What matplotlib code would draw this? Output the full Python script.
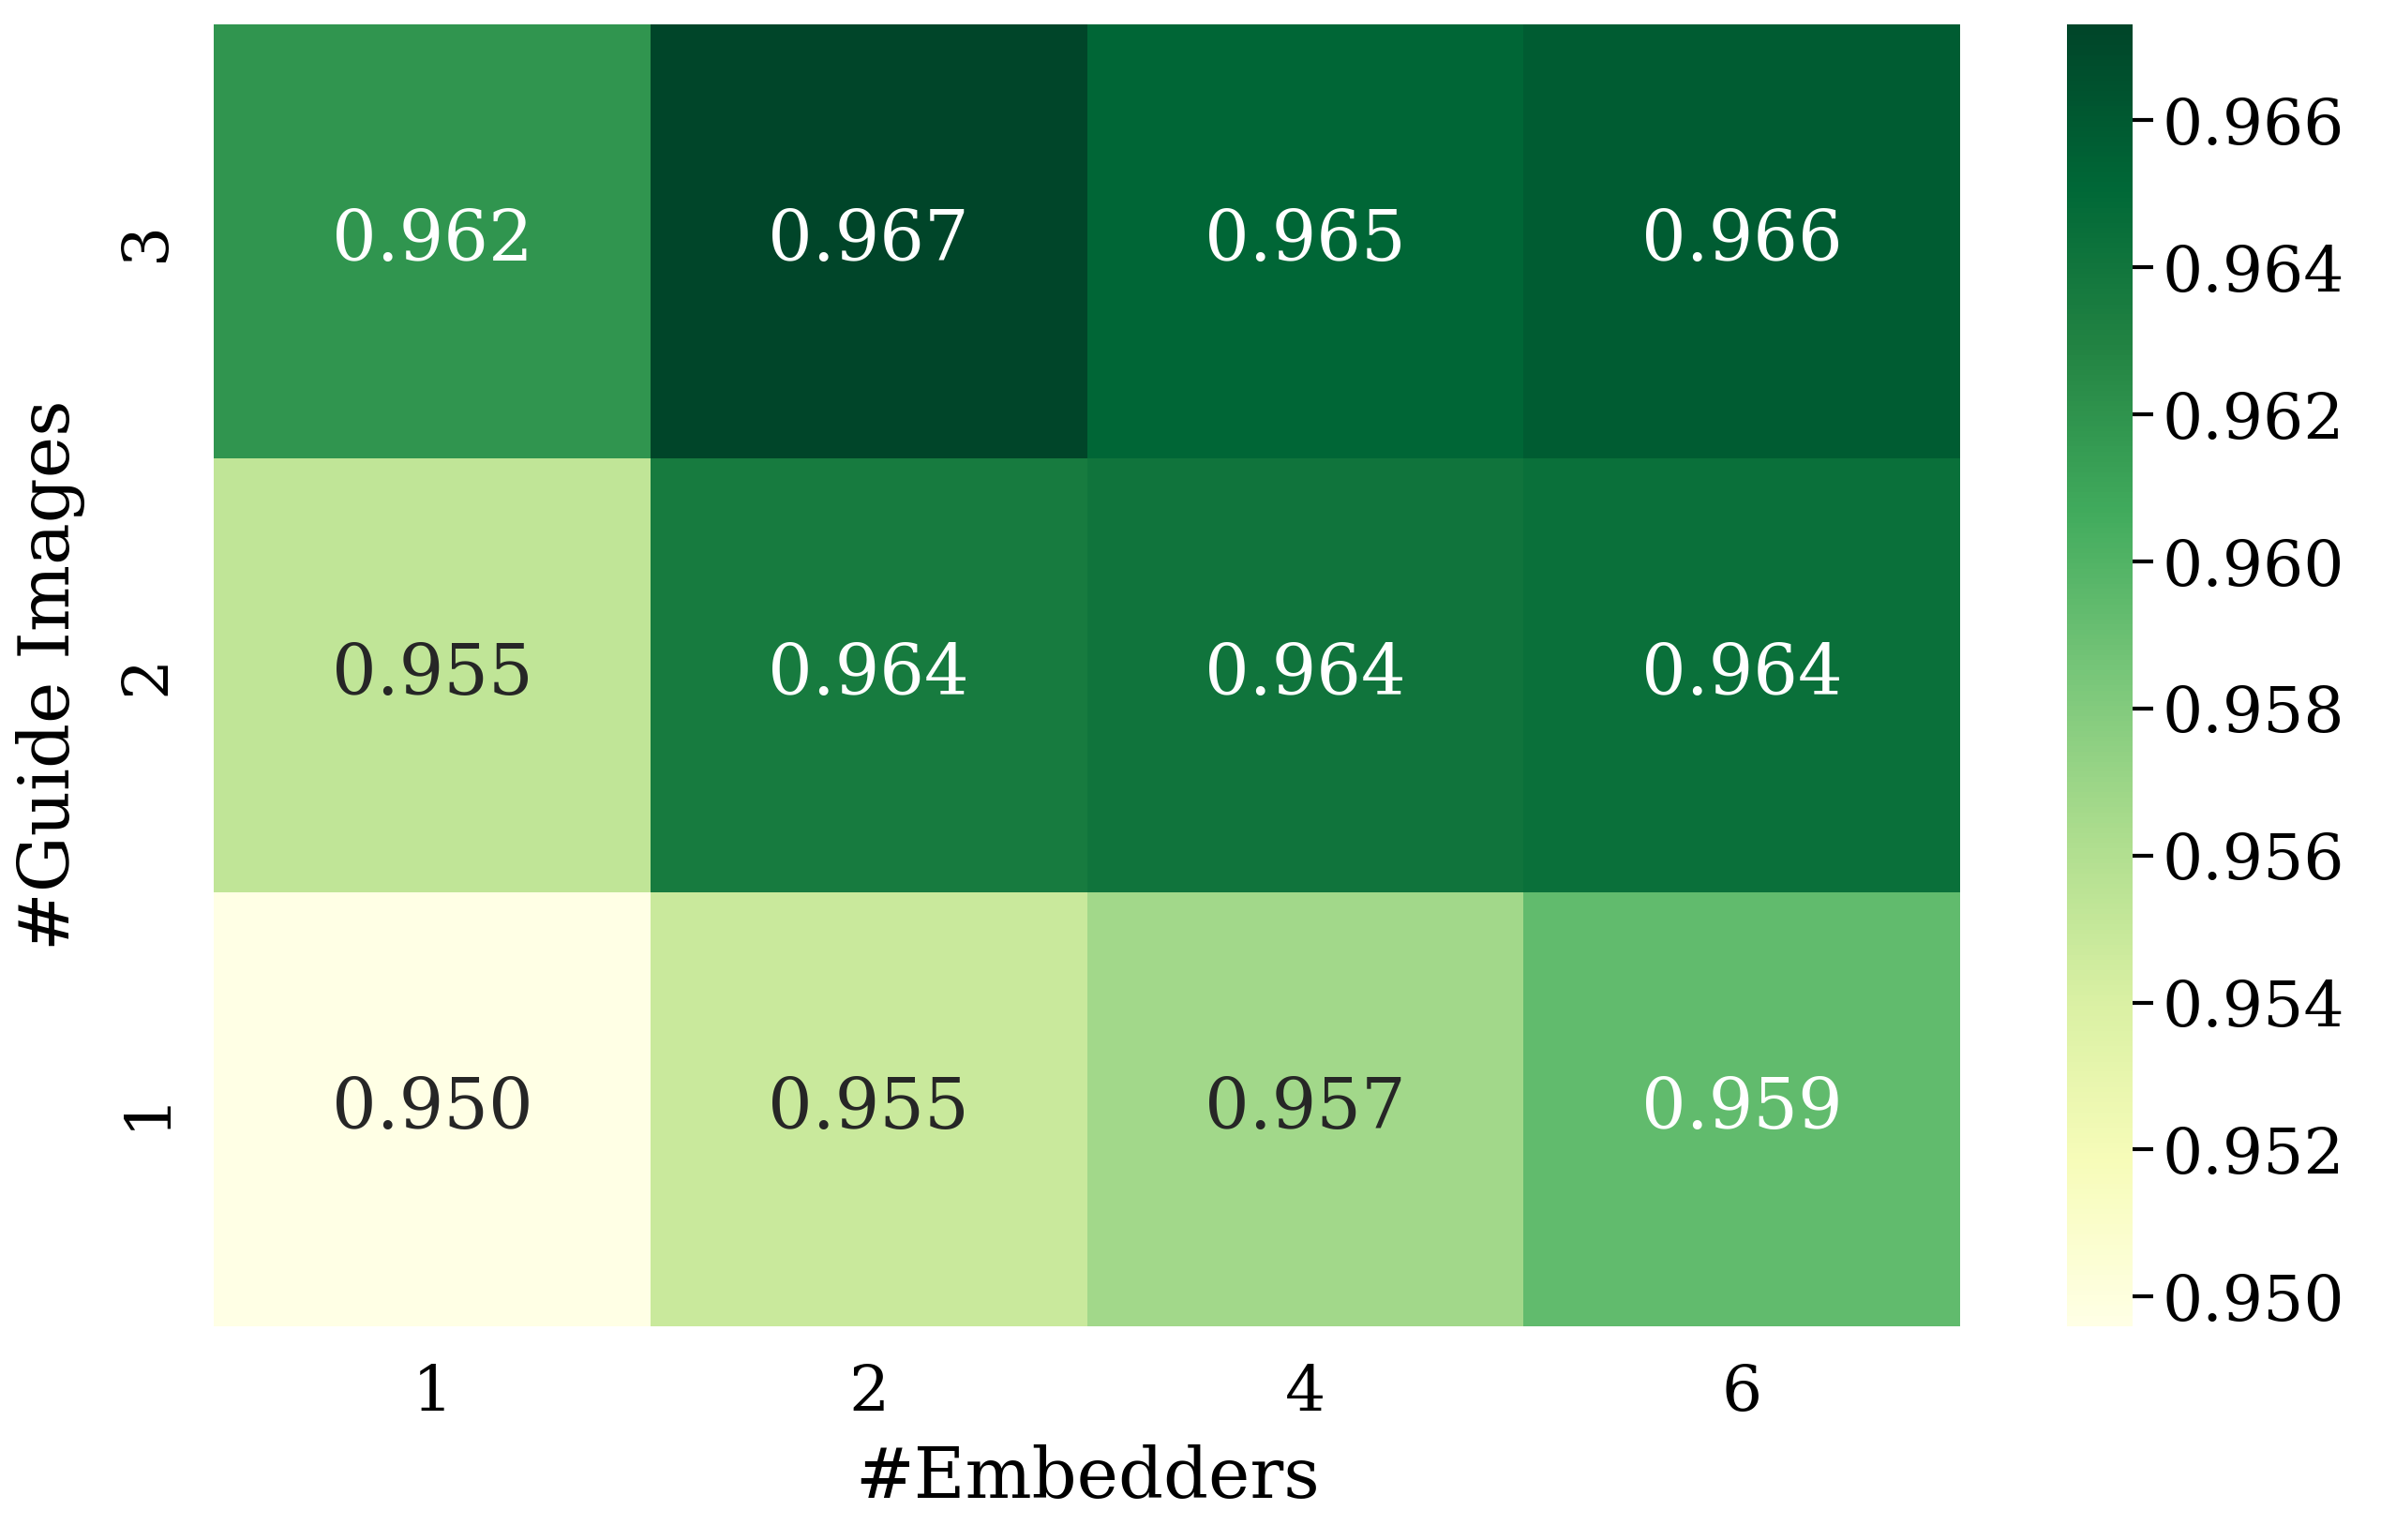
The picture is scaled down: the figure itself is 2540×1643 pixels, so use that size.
import numpy as np
import matplotlib
matplotlib.use("Agg")
import matplotlib.pyplot as plt
import seaborn as sns

embedders = ["1", "2", "4", "6"]
guide_images = ["3", "2", "1"]
row_3 = [0.9619, 0.9673, 0.9652, 0.9658]
row_2 = [0.9553, 0.9636, 0.9641, 0.9644]
row_1 = [0.9496, 0.9548, 0.9567, 0.9594]

sns.set_theme(style="white")
plt.rcParams["font.family"] = ["DejaVu Serif"]
plt.rcParams["text.color"] = "black"
plt.rcParams["axes.labelcolor"] = "black"
plt.rcParams["xtick.color"] = "black"
plt.rcParams["ytick.color"] = "black"

data = np.array([row_3, row_2, row_1])

fig = plt.figure(figsize=(12.7, 8.215), dpi=200)
ax = fig.add_axes([0.0898, 0.139, 0.7335, 0.845])
cax = fig.add_axes([0.868, 0.139, 0.0275, 0.845])

sns.heatmap(data, ax=ax, cbar_ax=cax, cmap="YlGn", annot=True, fmt=".3f",
            annot_kws={"fontsize": 27},
            xticklabels=embedders, yticklabels=guide_images)

ax.set_xlabel("#Embedders", fontsize=27, labelpad=8)
ax.set_ylabel("#Guide Images", fontsize=27, labelpad=12)
ax.tick_params(axis="both", length=0, labelsize=24.5, pad=14)
ax.tick_params(axis="y", labelrotation=90)
for t in ax.get_yticklabels():
    t.set_va("center")

cax.tick_params(labelsize=24.5, length=8, width=1.5, color="black", right=True)
cax.yaxis.set_major_formatter(matplotlib.ticker.FormatStrFormatter("%.3f"))
cax.set_yticks([0.950, 0.952, 0.954, 0.956, 0.958, 0.960, 0.962, 0.964, 0.966])

fig.savefig("out.png", dpi=200)
